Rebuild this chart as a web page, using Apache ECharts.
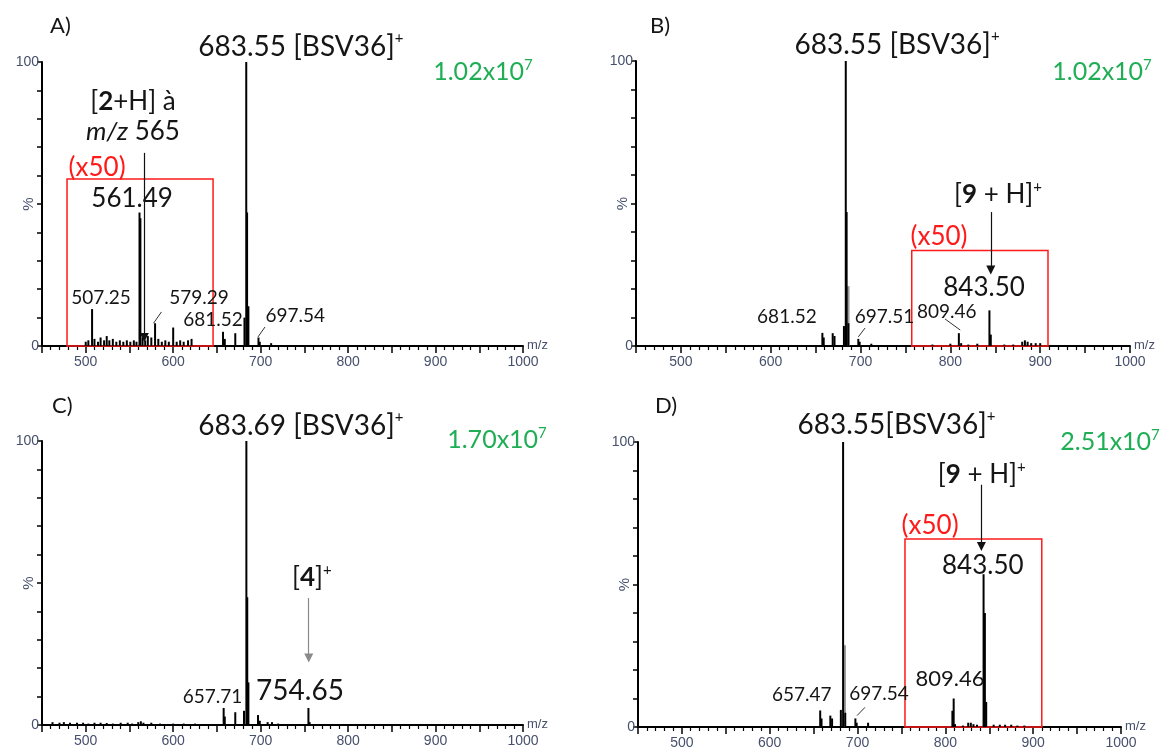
<!DOCTYPE html>
<html><head><meta charset="utf-8">
<script src="https://cdn.jsdelivr.net/npm/echarts@6/dist/echarts.min.js"></script>
<style>html,body{margin:0;padding:0;background:#fff}#c{width:1169px;height:753px}</style>
</head><body><div id="c"></div>
<script>
// ---------- DATA (m/z, relative intensity %) ----------
const mzA  = [500,503,507.25,510,514,517,521,524,527,531,535,539,543,547,551,555,558,561.49,562.5,565,568,571,575,579.29,583,587,591,595,600,604,608,612,617,621,657,659,671,681.52,683.55,684.5,686,697.54,699,712];
const intA = [1.5,2,13,2.5,1.5,3,2,3.5,2,2.5,1.5,2,1.5,2,1.5,2,1.5,47,45,3,2,3.5,3,8,2.5,1.5,2,1.5,6.5,1.5,2,1.5,2,2.5,5,2.5,4.5,10,100,47,14,3,1.5,1];
const grayMzA = [], grayIntA = [];

const mzB  = [520,560,657.5,659,669,671,681.52,683.55,684.5,686.5,697.51,699,712,780,800,809.46,812,820,830,843.5,845,860,870,880,883,886,890,895,900];
const intB = [0.3,0.3,4.6,3,4.5,3.5,7,100,47,8,2.5,1.5,0.8,0.5,0.8,4.5,1,0.5,0.8,12.5,4,0.5,0.5,1.5,2,1.5,1,1,1];
const grayMzB = [685.5], grayIntB = [21];

const mzC  = [462,470,475,482,490,497,503,510,517,524,531,540,548,553,560,563,566,575,585,600,612,625,640,657.71,659,671,681,683.69,684.7,686,697,699,708,713,720,754.65,756];
const intC = [1,0.8,1,0.8,0.8,0.8,0.5,0.8,0.8,0.7,0.5,0.8,0.8,0.5,1,1.3,0.8,0.8,0.5,0.5,0.5,0.5,0.3,6,3,4.5,5,100,45,15,3.5,1.5,1,1,0.5,6,1];
const grayMzC = [], grayIntC = [];

const mzD  = [657.47,659,669,671,681,683.55,686,697.54,699,712,808,809.46,811,820,826,829,832,836,843.5,845,846.5,855,862,868,875,882,890,950];
const intD = [5.8,3,4,3,6,100,5,3,1.5,1.5,5.7,10,1,0.5,1.5,1.5,1,0.8,53.6,40,8.8,0.8,0.8,0.8,0.8,0.5,0.5,0.3];
const grayMzD = [684.5], grayIntD = [28.7];

// x50 magnified regions: [mzStart, mzEnd, topPercent]
const boxA = [478.6, 645.6, 58.8];
const boxB = [757, 908.7, 33.5];
const boxD = [754, 909.8, 66];

// axis range and tick labels
const xMin = 450, xMax = 1000;
const xTickLabels = [500,600,700,800,900,1000];
const yTickLabels = [0,100];

const panelTags = ['A)','B)','C)','D)'];
const totalIon = ['1.02x10','1.02x10','1.70x10','2.51x10'];

// ---------- ANNOTATIONS ----------
const annA = [
  {t:'{t|683.55 [BSV36]}{s|+}', x:746, y:100, dy:-15},
  {t:'{n|[}{b|2}{n|+H] à}', x:554, y:86},
  {t:'{i|m/z}{n| 565}', x:554, y:75.4},
  {t:'{r|(x50)}', x:513, y:62.7},
  {t:'{n|561.49}', x:553, y:51.8},
  {t:'{m|507.25}', x:517.5, y:16.9},
  {t:'{m|579.29}', x:629.6, y:16.9},
  {t:'{m|681.52}', x:645.6, y:9.2},
  {t:'{m|697.54}', x:739.5, y:10.6}
];
const annB = [
  {t:'{t|683.55 [BSV36]}{s|+}', x:740.6, y:100, dy:-16},
  {t:'{m|681.52}', x:618, y:10.2},
  {t:'{m|697.51}', x:726.7, y:10.2},
  {t:'{m|809.46}', x:796, y:12},
  {t:'{n|843.50}', x:837.5, y:20.4},
  {t:'{r|(x50)}', x:787.4, y:38.4},
  {t:'{n|[}{b|9}{n| + H]}{s|+}', x:853, y:53}
];
const annC = [
  {t:'{t|683.69 [BSV36]}{s|+}', x:746, y:100, dy:-15},
  {t:'{n|[}{b|4}{n|]}{s|+}', x:758.5, y:52},
  {t:'{t|754.65}', x:745, y:12.1},
  {t:'{m|657.71}', x:645, y:10}
];
const annD = [
  {t:'{t|683.55[BSV36]}{s|+}', x:744.4, y:100, dy:-17},
  {t:'{n|[}{b|9}{n| + H]}{s|+}', x:841.4, y:88.4},
  {t:'{r|(x50)}', x:782.6, y:70.8},
  {t:'{n|843.50}', x:842.6, y:56.8},
  {t:'{l|809.46}', x:805.3, y:17},
  {t:'{m|657.47}', x:636.4, y:11.1},
  {t:'{m|697.54}', x:724.5, y:11.7}
];
const arrows = [ [567,68,3], [845,47,26.7], [755,44.7,23.6], [841,85,63.3] ];
const leaders = [
  [[586.6,12,577.5,8],[705,6.7,697,3.2]],
  [[705,6.3,697.5,3.2],[794,9.5,811,5.6]],
  [],
  [[708.5,6.9,699.4,4]]
];

// ---------- STYLE ----------
const FONT = 'Lato';
const TXT = '#151515';
const TICKC = '#46506c';
const GREEN = '#1fae55';
const RED = '#ff1a1a';
const rich = {
  t:{fontSize:28, fontFamily:FONT, color:TXT, lineHeight:32},
  n:{fontSize:26, fontFamily:FONT, color:TXT, lineHeight:30},
  b:{fontSize:26, fontFamily:FONT, color:TXT, fontWeight:'bold', lineHeight:30},
  i:{fontSize:26, fontFamily:FONT, color:TXT, fontStyle:'italic', lineHeight:30},
  s:{fontSize:15, fontFamily:FONT, color:TXT, verticalAlign:'top', lineHeight:30},
  r:{fontSize:26, fontFamily:FONT, color:RED, lineHeight:30},
  m:{fontSize:19, fontFamily:FONT, color:TXT, lineHeight:22},
  l:{fontSize:22, fontFamily:FONT, color:TXT, lineHeight:26}
};

const grids = [
  {left:42, top:62, width:481, height:284},
  {left:636, top:61, width:494, height:285},
  {left:42, top:441, width:481, height:284},
  {left:638, top:442, width:483, height:285}
];

function xAx(i){
  return {type:'value', gridIndex:i, min:xMin, max:xMax, interval:50,
    axisLine:{onZero:false, lineStyle:{color:'#000', width:2}},
    axisTick:{length:7, lineStyle:{color:'#000', width:1.5}},
    minorTick:{show:true, splitNumber:5, length:4, lineStyle:{color:'#000', width:1.2}},
    splitLine:{show:false},
    axisLabel:{formatter:v => xTickLabels.includes(v) ? String(v) : '', color:TICKC, fontFamily:'Liberation Sans', fontSize:14, margin:9, showMinLabel:true, showMaxLabel:true},
    name:'m/z', nameLocation:'end', nameGap:4,
    nameTextStyle:{color:TICKC, fontFamily:'Liberation Sans', fontSize:13, verticalAlign:'bottom', align:'left', padding:[0,0,-6,0]}
  };
}
function yAx(i){
  return {type:'value', gridIndex:i, min:0, max:100, interval:10,
    axisLine:{show:true, lineStyle:{color:'#000', width:2}},
    axisTick:{show:true, length:5, lineStyle:{color:'#000', width:1.5}},
    splitLine:{show:false},
    axisLabel:{formatter:v => yTickLabels.includes(v) ? String(v) : '', color:TICKC, fontFamily:'Liberation Sans', fontSize:14, margin:3},
    name:'%', nameLocation:'middle', nameRotate:90, nameGap:6, nameMoveOverlap:false,
    nameTextStyle:{color:TICKC, fontFamily:'Liberation Sans', fontSize:15}
  };
}

const zip = (a,b) => a.map((v,k)=>[v,b[k]]);
const mzs = [mzA,mzB,mzC,mzD], ints = [intA,intB,intC,intD];
const gmz = [grayMzA,grayMzB,grayMzC,grayMzD], gint = [grayIntA,grayIntB,grayIntC,grayIntD];
const boxes = [boxA, boxB, null, boxD];
const anns = [annA, annB, annC, annD];

const series = [];
for (let i=0;i<4;i++){
  series.push({
    type:'bar', xAxisIndex:i, yAxisIndex:i, barWidth:3, barGap:'-100%', z:1,
    itemStyle:{color:'#9a9a9a'}, data: zip(gmz[i], gint[i]), silent:true
  });
  const mlData = [];
  const a = arrows[i];
  mlData.push([{coord:[a[0],a[1]], symbol:'none'},{coord:[a[0],a[2]], symbol:'triangle'}]);
  leaders[i].forEach(l => mlData.push([
    {coord:[l[0],l[1]], symbol:'none', lineStyle:{width:1, color:'#333'}},
    {coord:[l[2],l[3]], symbol:'none'}
  ]));
  const s = {
    type:'bar', xAxisIndex:i, yAxisIndex:i, barWidth:2, barGap:'-100%', z:2,
    itemStyle:{color:'#000'}, data: zip(mzs[i], ints[i]), silent:true,
    markLine:{silent:true, symbolSize:9, label:{show:false},
      lineStyle:{color: i===2 ? '#8a8a8a' : '#111', width:1.2, type:'solid'},
      itemStyle:{color:'#000'},
      data: mlData},
    markPoint:{silent:true, symbol:'circle', symbolSize:1, itemStyle:{color:'rgba(0,0,0,0)'},
      data: anns[i].map(o => ({coord:[o.x,o.y], label:{show:true, position:'inside', offset:[0,o.dy||0], formatter:o.t, rich:rich}}))}
  };
  if (boxes[i]) {
    const b = boxes[i];
    s.markArea = {silent:true, itemStyle:{color:'rgba(0,0,0,0)', borderColor:RED, borderWidth:1.5},
      data:[[{coord:[b[0],0]},{coord:[b[1],b[2]]}]]};
  }
  series.push(s);
}

const tagPos = [[50,28],[650,28],[52,408],[655,408]];
const greenPos = [[483,72],[1102,72],[497,440],[1110,442]];
const graphic = [];
for (let i=0;i<4;i++){
  graphic.push({type:'text', left:tagPos[i][0], top:tagPos[i][1]-13, style:{text:panelTags[i], font:'22px Lato', fill:TXT}});
  graphic.push({type:'text', x:greenPos[i][0], y:greenPos[i][1], style:{
    text:'{g|'+totalIon[i]+'}{gs|7}', align:'center', verticalAlign:'middle',
    rich:{g:{fontSize:25, fontFamily:FONT, fill:GREEN, color:GREEN, lineHeight:28}, gs:{fontSize:15, fontFamily:FONT, fill:GREEN, color:GREEN, verticalAlign:'top', lineHeight:28}}
  }});
}

const chart = echarts.init(document.getElementById('c'));
chart.setOption({
  animation:false,
  backgroundColor:'#fff',
  grid: grids,
  xAxis: [0,1,2,3].map(xAx),
  yAxis: [0,1,2,3].map(yAx),
  series: series,
  graphic: graphic
});
</script></body></html>
